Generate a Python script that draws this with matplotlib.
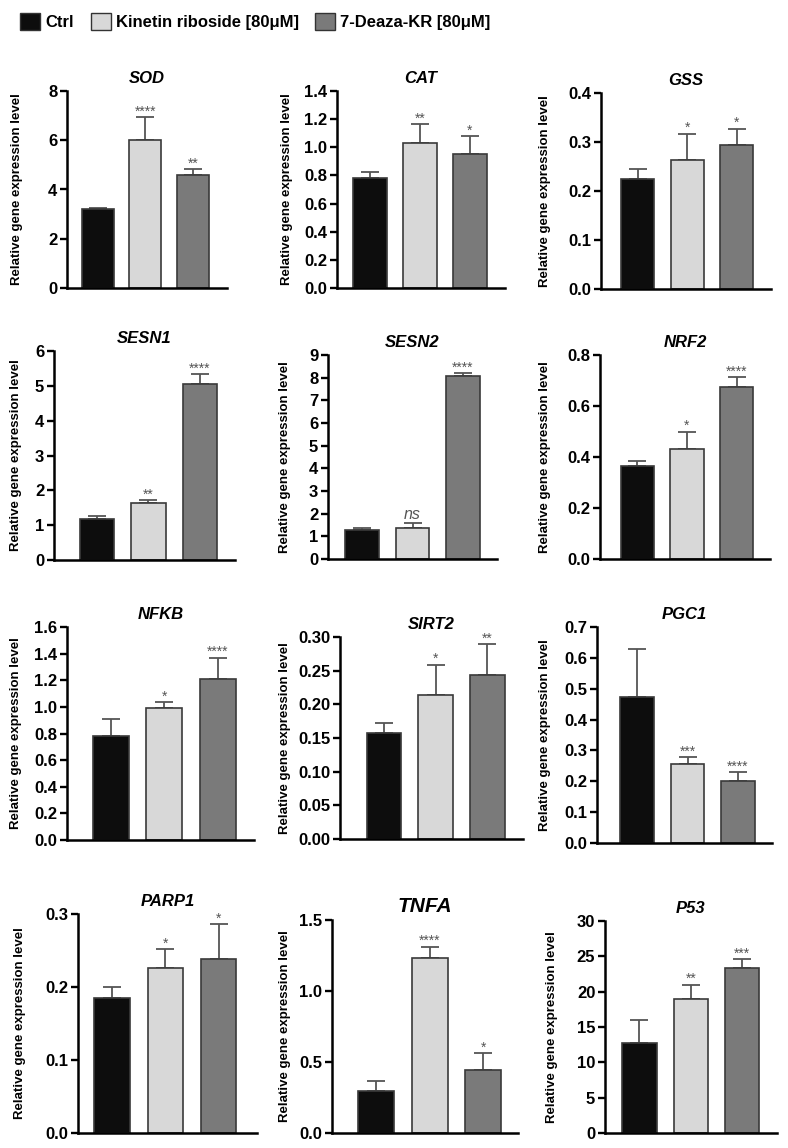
import matplotlib
matplotlib.use('Agg')
import matplotlib.pyplot as plt
from matplotlib import font_manager
from matplotlib.patches import Patch
from matplotlib.ticker import MultipleLocator, FormatStrFormatter

# ---------------- data ----------------
groups = ['Ctrl', 'Kinetin riboside [80μM]', '7-Deaza-KR [80μM]']
genes = ['SOD', 'CAT', 'GSS', 'SESN1', 'SESN2', 'NRF2',
         'NFKB', 'SIRT2', 'PGC1', 'PARP1', 'TNFA', 'P53']

sod_mean = [3.2, 6.0, 4.6];        sod_err = [0.03, 0.93, 0.22];   sod_sig = ['', '****', '**']
cat_mean = [0.78, 1.03, 0.95];     cat_err = [0.045, 0.135, 0.13]; cat_sig = ['', '**', '*']
gss_mean = [0.224, 0.264, 0.294];  gss_err = [0.02, 0.053, 0.033]; gss_sig = ['', '*', '*']
sesn1_mean = [1.17, 1.63, 5.05];   sesn1_err = [0.09, 0.08, 0.29]; sesn1_sig = ['', '**', '****']
sesn2_mean = [1.26, 1.38, 8.08];   sesn2_err = [0.12, 0.20, 0.11]; sesn2_sig = ['', 'ns', '****']
nrf2_mean = [0.363, 0.431, 0.674]; nrf2_err = [0.022, 0.069, 0.039]; nrf2_sig = ['', '*', '****']
nfkb_mean = [0.78, 0.99, 1.21];    nfkb_err = [0.13, 0.045, 0.16]; nfkb_sig = ['', '*', '****']
sirt2_mean = [0.158, 0.214, 0.244]; sirt2_err = [0.015, 0.045, 0.045]; sirt2_sig = ['', '*', '**']
pgc1_mean = [0.474, 0.255, 0.200]; pgc1_err = [0.156, 0.023, 0.029]; pgc1_sig = ['', '***', '****']
parp1_mean = [0.185, 0.226, 0.239]; parp1_err = [0.015, 0.026, 0.047]; parp1_sig = ['', '*', '*']
tnfa_mean = [0.293, 1.235, 0.445]; tnfa_err = [0.075, 0.077, 0.117]; tnfa_sig = ['', '****', '*']
p53_mean = [12.7, 19.0, 23.3];     p53_err = [3.3, 2.0, 1.3];      p53_sig = ['', '**', '***']

y_max = [8, 1.4, 0.4, 6, 9, 0.8, 1.6, 0.30, 0.7, 0.3, 1.5, 30]
y_step = [2, 0.2, 0.1, 1, 1, 0.2, 0.2, 0.05, 0.1, 0.1, 0.5, 5]
y_fmt = ['%d', '%.1f', '%.1f', '%d', '%d', '%.1f', '%.1f', '%.2f', '%.1f', '%.1f', '%.1f', '%d']

means = [sod_mean, cat_mean, gss_mean, sesn1_mean, sesn2_mean, nrf2_mean,
         nfkb_mean, sirt2_mean, pgc1_mean, parp1_mean, tnfa_mean, p53_mean]
errs = [sod_err, cat_err, gss_err, sesn1_err, sesn2_err, nrf2_err,
        nfkb_err, sirt2_err, pgc1_err, parp1_err, tnfa_err, p53_err]
sigs = [sod_sig, cat_sig, gss_sig, sesn1_sig, sesn2_sig, nrf2_sig,
        nfkb_sig, sirt2_sig, pgc1_sig, parp1_sig, tnfa_sig, p53_sig]

# ---------------- style / layout ----------------
bar_colors = ['#0d0d0d', '#d8d8d8', '#7a7a7a']
edge_color = '#3a3a3a'
W, H = 788, 1148
# pixel boxes: left, top, right, bottom ; x-margins (left, right) in bar units
boxes = [(67, 91, 227, 288), (337, 91, 505, 288), (601, 93, 771, 289),
         (54, 351, 235, 560), (328, 355, 497, 559), (600, 355, 770, 559),
         (67, 627, 254, 840), (340, 637, 523, 839), (597, 627, 772, 843),
         (78, 914, 257, 1133), (332, 920, 518, 1133), (605, 921, 777, 1133)]
xmarg = [(0.64, 0.71), (0.66, 0.70), (0.74, 0.69),
         (0.83, 0.68), (0.68, 0.68), (0.75, 0.67),
         (0.82, 0.68), (0.85, 0.69), (0.80, 0.68),
         (0.64, 0.72), (0.82, 0.65), (0.67, 0.68)]
ylabel_x = [17, 287, 545, 16, 285, 545, 16, 285, 545, 20, 285, 552]
title_size = [12, 12, 12, 12, 12, 12, 12, 12, 12, 12, 15, 12]

names = {f.name for f in font_manager.fontManager.ttflist}
base = 'Liberation Sans' if 'Liberation Sans' in names else 'DejaVu Sans'
narrow = 'Liberation Sans Narrow' if 'Liberation Sans Narrow' in names else base

plt.rcParams['font.family'] = [base, 'DejaVu Sans']
plt.rcParams['font.weight'] = 'bold'

fig = plt.figure(figsize=(W / 100, H / 100), dpi=100)

for k, gene in enumerate(genes):
    l, t, r, b = boxes[k]
    ax = fig.add_axes([l / W, 1 - b / H, (r - l) / W, (b - t) / H])
    x = list(range(len(groups)))
    m = means[k]
    e = errs[k]
    ax.errorbar(x, m, yerr=[[0] * len(e), e], fmt='none', ecolor='#555555',
                elinewidth=1.3, capsize=6.5, capthick=1.3, zorder=1)
    ax.bar(x, m, width=0.67, color=bar_colors, edgecolor=edge_color,
           linewidth=1.2, zorder=2)
    ax.set_xlim(-xmarg[k][0], 2 + xmarg[k][1])
    ax.set_ylim(0, y_max[k])
    ax.yaxis.set_major_locator(MultipleLocator(y_step[k]))
    ax.yaxis.set_major_formatter(FormatStrFormatter(y_fmt[k]))
    ax.set_xticks([])
    for s in ['top', 'right']:
        ax.spines[s].set_visible(False)
    for s in ['left', 'bottom']:
        ax.spines[s].set_linewidth(1.8)
        ax.spines[s].set_color('#000000')
    ax.tick_params(axis='y', labelsize=12, width=1.7, length=5, direction='out', pad=2)
    for lab in ax.get_yticklabels():
        lab.set_fontweight('bold')
    ax.set_ylabel('Relative gene expression level', fontsize=9.5, fontweight='bold')
    ax.yaxis.label.set_va('center')
    ax.yaxis.set_label_coords((ylabel_x[k] - l) / (r - l), 0.5)
    ax.set_title(gene, fontsize=title_size[k], fontweight='bold', fontstyle='italic', pad=6)
    for i, s in enumerate(sigs[k]):
        if not s:
            continue
        if s == 'ns':
            ax.annotate(s, (x[i], m[i] + e[i]), xytext=(0, 0.5), textcoords='offset points',
                        ha='center', va='bottom', fontsize=11.5, fontstyle='italic',
                        fontweight='normal', color='#555555')
        else:
            ax.annotate(s, (x[i], m[i] + e[i]), xytext=(0, -1), textcoords='offset points',
                        ha='center', va='bottom', fontsize=10, fontweight='normal',
                        color='#555555')

handles = [Patch(facecolor=c, edgecolor='#333333', linewidth=1.0) for c in bar_colors]
fig.legend(handles, groups, loc='center left', bbox_to_anchor=(0.026, 0.9815), ncol=3,
           frameon=False, prop={'family': narrow, 'weight': 'bold', 'size': 12},
           handlelength=1.2, handleheight=1.2, handletextpad=0.3, columnspacing=1.0,
           borderaxespad=0, borderpad=0)

fig.savefig('out.png', dpi=100)
